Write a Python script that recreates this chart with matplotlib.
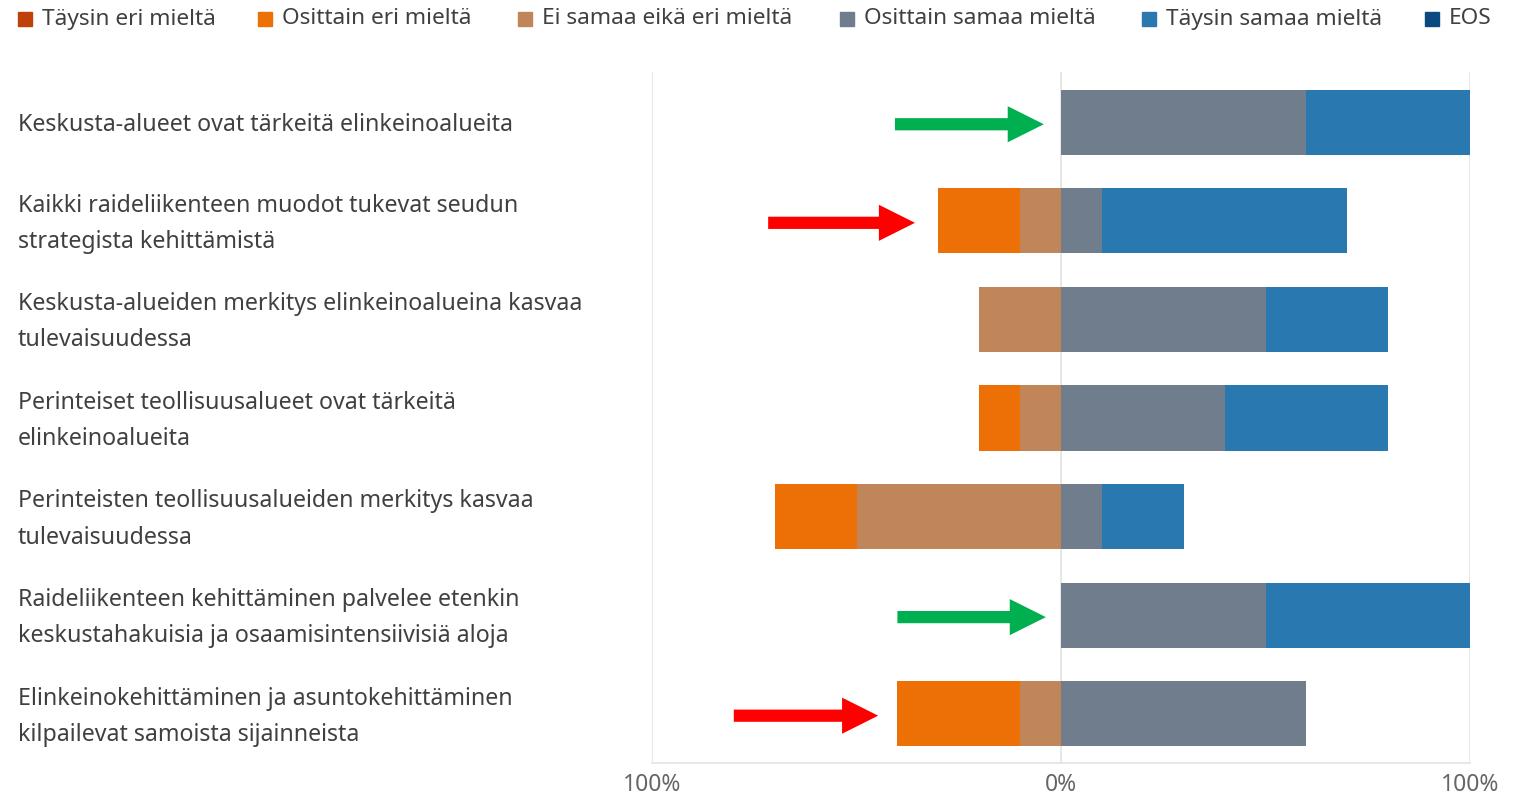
import matplotlib
matplotlib.use("Agg")
import matplotlib.pyplot as plt
from matplotlib.patches import Rectangle
from matplotlib.transforms import blended_transform_factory
import numpy as np

plt.rcParams['font.family'] = ['Noto Sans', 'DejaVu Sans']

categories = [
    "Keskusta-alueet ovat tärkeitä elinkeinoalueita",
    "Kaikki raideliikenteen muodot tukevat seudun\nstrategista kehittämistä",
    "Keskusta-alueiden merkitys elinkeinoalueina kasvaa\ntulevaisuudessa",
    "Perinteiset teollisuusalueet ovat tärkeitä\nelinkeinoalueita",
    "Perinteisten teollisuusalueiden merkitys kasvaa\ntulevaisuudessa",
    "Raideliikenteen kehittäminen palvelee etenkin\nkeskustahakuisia ja osaamisintensiivisiä aloja",
    "Elinkeinokehittäminen ja asuntokehittäminen\nkilpailevat samoista sijainneista",
]
series_names = ["Täysin eri mieltä", "Osittain eri mieltä", "Ei samaa eikä eri mieltä",
                "Osittain samaa mieltä", "Täysin samaa mieltä", "EOS"]
taysin_eri = [0, 0, 0, 0, 0, 0, 0]
osittain_eri = [0, 20, 0, 10, 20, 0, 30]
ei_samaa = [0, 10, 20, 10, 50, 0, 10]
osittain_samaa = [60, 10, 50, 40, 10, 50, 60]
taysin_samaa = [40, 60, 30, 40, 20, 50, 0]
eos = [0, 0, 0, 0, 0, 0, 0]
tick_values = [-100, 0, 100]
tick_labels = ["100%", "0%", "100%"]

# arrows: row, tail x, head x, colour
arrow_rows = [0, 1, 5, 6]
arrow_tail = [-40.6, -71.6, -40.0, -80.0]
arrow_head = [-4.2, -35.7, -3.7, -44.7]
arrow_colors = ["#00b050", "#ff0000", "#00b050", "#ff0000"]

colors = ["#c0400a", "#ec7005", "#c0865a", "#6f7d8c", "#2a78b0", "#0b4a80"]
text_col = "#404040"

fig = plt.figure(figsize=(15.17, 7.97), dpi=100)
ax = fig.add_axes([652/1517, 1-763/797, (1470-652)/1517, (763-72)/797])

y = np.arange(len(categories))
h = 0.66
neg_ei = -np.array(ei_samaa, float)
neg_os = neg_ei - np.array(osittain_eri, float)
neg_ta = neg_os - np.array(taysin_eri, float)
ax.barh(y, ei_samaa, left=neg_ei, height=h, color=colors[2], edgecolor='none')
ax.barh(y, osittain_eri, left=neg_os, height=h, color=colors[1], edgecolor='none')
ax.barh(y, taysin_eri, left=neg_ta, height=h, color=colors[0], edgecolor='none')
pos1 = np.array(osittain_samaa, float)
ax.barh(y, osittain_samaa, left=0, height=h, color=colors[3], edgecolor='none')
ax.barh(y, taysin_samaa, left=pos1, height=h, color=colors[4], edgecolor='none')
ax.barh(y, eos, left=pos1 + np.array(taysin_samaa, float), height=h, color=colors[5], edgecolor='none')

ax.set_xlim(-100, 100)
ax.set_ylim(len(categories) - 0.5, -0.51)
for xv in tick_values:
    ax.axvline(xv, color="#e3e3e3", lw=1.2, zorder=0)
for s in ['top', 'left', 'right']:
    ax.spines[s].set_visible(False)
ax.spines['bottom'].set_color("#e3e3e3")
ax.spines['bottom'].set_linewidth(1.2)
ax.set_yticks([])
ax.set_xticks(tick_values)
ax.set_xticklabels(tick_labels, fontsize=16.5, color="#666666")
ax.tick_params(axis='x', length=0, pad=7)

tr = blended_transform_factory(fig.transFigure, ax.transData)
for i, lab in enumerate(categories):
    ax.text(18/1517, i + 0.03, lab, transform=tr, ha='left', va='center',
            fontsize=16.7, color=text_col, linespacing=1.68)

for r, t0, t1, c in zip(arrow_rows, arrow_tail, arrow_head, arrow_colors):
    ax.annotate("", xy=(t1, r + 0.02), xytext=(t0, r + 0.02),
                arrowprops=dict(arrowstyle="simple,head_length=1.3,tail_width=0.44,head_width=1.3",
                                color=c, lw=0, mutation_scale=20, shrinkA=0, shrinkB=0),
                annotation_clip=False)

leg_x = [18, 258, 518, 840, 1142, 1425]
for xs, name, c in zip(leg_x, series_names, colors):
    fig.patches.append(Rectangle((xs/1517, 1-26/797), 14/1517, 14/797, transform=fig.transFigure,
                                 color=c, figure=fig))
    fig.text((xs+24)/1517, 1-19/797, name, ha='left', va='center', fontsize=16.3, color=text_col)

fig.savefig("out.png", dpi=100, facecolor="white")
